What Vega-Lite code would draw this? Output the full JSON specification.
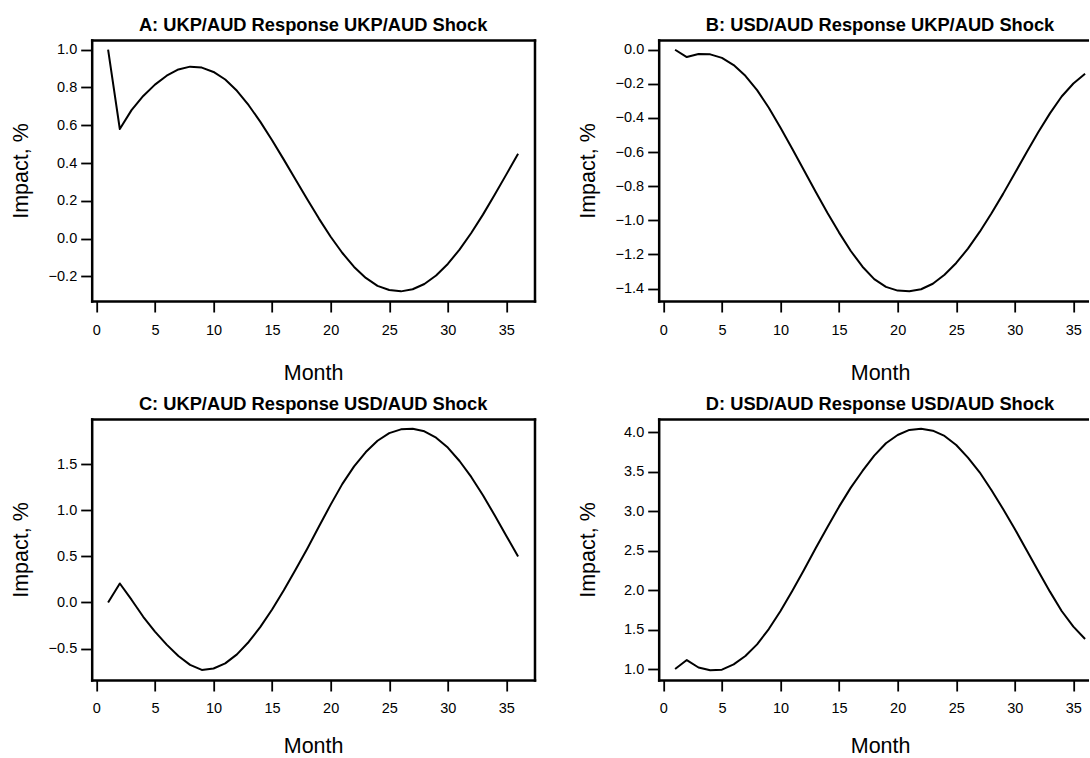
{
  "$schema": "https://vega.github.io/schema/vega-lite/v6.json",
  "background": "white",
  "autosize": {"type": "pad"},
  "padding": {"left": 10.7, "top": 16, "right": 0, "bottom": 0},
  "bounds": "flush",
  "columns": 2,
  "spacing": {"row": 118, "column": 124},
  "config": {
    "font": "Liberation Sans",
    "view": {"stroke": null},
    "axis": {
      "grid": false,
      "domainColor": "black",
      "domainWidth": 2.5,
      "domainCap": "square",
      "tickColor": "black",
      "tickSize": 11,
      "tickWidth": 1.8,
      "labelColor": "black",
      "labelFont": "Liberation Sans",
      "labelFontSize": 14.5,
      "labelFlush": false,
      "labelOverlap": false,
      "titleFont": "Liberation Sans",
      "titleFontSize": 21.5,
      "titleFontWeight": "normal",
      "titleColor": "black"
    },
    "axisBottom": {"labelPadding": 11, "titleX": 221.4, "titleY": 78.5, "titleBaseline": "alphabetic", "titleAlign": "center"},
    "axisLeft": {"labelPadding": 4, "titleX": -64, "titleY": 130.5, "titleAngle": 270, "titleBaseline": "alphabetic", "titleAlign": "center"},
    "title": {"font": "Liberation Sans", "fontSize": 18.3, "fontWeight": "bold", "color": "black", "anchor": "middle", "frame": "group", "baseline": "alphabetic", "offset": 4.3}
  },
  "datasets": {
    "irf": [
      {"panel": "A", "month": 1, "impact": 1.0},
      {"panel": "A", "month": 2, "impact": 0.58},
      {"panel": "A", "month": 3, "impact": 0.68},
      {"panel": "A", "month": 4, "impact": 0.755},
      {"panel": "A", "month": 5, "impact": 0.815},
      {"panel": "A", "month": 6, "impact": 0.862},
      {"panel": "A", "month": 7, "impact": 0.895},
      {"panel": "A", "month": 8, "impact": 0.91},
      {"panel": "A", "month": 9, "impact": 0.905},
      {"panel": "A", "month": 10, "impact": 0.882},
      {"panel": "A", "month": 11, "impact": 0.842},
      {"panel": "A", "month": 12, "impact": 0.782},
      {"panel": "A", "month": 13, "impact": 0.706},
      {"panel": "A", "month": 14, "impact": 0.618},
      {"panel": "A", "month": 15, "impact": 0.521},
      {"panel": "A", "month": 16, "impact": 0.418},
      {"panel": "A", "month": 17, "impact": 0.313},
      {"panel": "A", "month": 18, "impact": 0.208},
      {"panel": "A", "month": 19, "impact": 0.106},
      {"panel": "A", "month": 20, "impact": 0.01},
      {"panel": "A", "month": 21, "impact": -0.076},
      {"panel": "A", "month": 22, "impact": -0.15},
      {"panel": "A", "month": 23, "impact": -0.208},
      {"panel": "A", "month": 24, "impact": -0.25},
      {"panel": "A", "month": 25, "impact": -0.272},
      {"panel": "A", "month": 26, "impact": -0.279},
      {"panel": "A", "month": 27, "impact": -0.268},
      {"panel": "A", "month": 28, "impact": -0.24},
      {"panel": "A", "month": 29, "impact": -0.195},
      {"panel": "A", "month": 30, "impact": -0.134},
      {"panel": "A", "month": 31, "impact": -0.058},
      {"panel": "A", "month": 32, "impact": 0.03},
      {"panel": "A", "month": 33, "impact": 0.127},
      {"panel": "A", "month": 34, "impact": 0.232},
      {"panel": "A", "month": 35, "impact": 0.34},
      {"panel": "A", "month": 36, "impact": 0.449},

      {"panel": "B", "month": 1, "impact": 0.0},
      {"panel": "B", "month": 2, "impact": -0.043},
      {"panel": "B", "month": 3, "impact": -0.025},
      {"panel": "B", "month": 4, "impact": -0.027},
      {"panel": "B", "month": 5, "impact": -0.048},
      {"panel": "B", "month": 6, "impact": -0.09},
      {"panel": "B", "month": 7, "impact": -0.153},
      {"panel": "B", "month": 8, "impact": -0.237},
      {"panel": "B", "month": 9, "impact": -0.34},
      {"panel": "B", "month": 10, "impact": -0.457},
      {"panel": "B", "month": 11, "impact": -0.58},
      {"panel": "B", "month": 12, "impact": -0.707},
      {"panel": "B", "month": 13, "impact": -0.833},
      {"panel": "B", "month": 14, "impact": -0.956},
      {"panel": "B", "month": 15, "impact": -1.072},
      {"panel": "B", "month": 16, "impact": -1.18},
      {"panel": "B", "month": 17, "impact": -1.272},
      {"panel": "B", "month": 18, "impact": -1.345},
      {"panel": "B", "month": 19, "impact": -1.39},
      {"panel": "B", "month": 20, "impact": -1.412},
      {"panel": "B", "month": 21, "impact": -1.416},
      {"panel": "B", "month": 22, "impact": -1.404},
      {"panel": "B", "month": 23, "impact": -1.372},
      {"panel": "B", "month": 24, "impact": -1.319},
      {"panel": "B", "month": 25, "impact": -1.25},
      {"panel": "B", "month": 26, "impact": -1.166},
      {"panel": "B", "month": 27, "impact": -1.068},
      {"panel": "B", "month": 28, "impact": -0.96},
      {"panel": "B", "month": 29, "impact": -0.845},
      {"panel": "B", "month": 30, "impact": -0.724},
      {"panel": "B", "month": 31, "impact": -0.602},
      {"panel": "B", "month": 32, "impact": -0.484},
      {"panel": "B", "month": 33, "impact": -0.373},
      {"panel": "B", "month": 34, "impact": -0.274},
      {"panel": "B", "month": 35, "impact": -0.198},
      {"panel": "B", "month": 36, "impact": -0.141},

      {"panel": "C", "month": 1, "impact": 0.0},
      {"panel": "C", "month": 2, "impact": 0.206},
      {"panel": "C", "month": 3, "impact": 0.03},
      {"panel": "C", "month": 4, "impact": -0.155},
      {"panel": "C", "month": 5, "impact": -0.315},
      {"panel": "C", "month": 6, "impact": -0.457},
      {"panel": "C", "month": 7, "impact": -0.58},
      {"panel": "C", "month": 8, "impact": -0.676},
      {"panel": "C", "month": 9, "impact": -0.731},
      {"panel": "C", "month": 10, "impact": -0.715},
      {"panel": "C", "month": 11, "impact": -0.66},
      {"panel": "C", "month": 12, "impact": -0.562},
      {"panel": "C", "month": 13, "impact": -0.428},
      {"panel": "C", "month": 14, "impact": -0.265},
      {"panel": "C", "month": 15, "impact": -0.076},
      {"panel": "C", "month": 16, "impact": 0.132},
      {"panel": "C", "month": 17, "impact": 0.355},
      {"panel": "C", "month": 18, "impact": 0.583},
      {"panel": "C", "month": 19, "impact": 0.823},
      {"panel": "C", "month": 20, "impact": 1.06},
      {"panel": "C", "month": 21, "impact": 1.285},
      {"panel": "C", "month": 22, "impact": 1.475},
      {"panel": "C", "month": 23, "impact": 1.63},
      {"panel": "C", "month": 24, "impact": 1.752},
      {"panel": "C", "month": 25, "impact": 1.835},
      {"panel": "C", "month": 26, "impact": 1.876},
      {"panel": "C", "month": 27, "impact": 1.883},
      {"panel": "C", "month": 28, "impact": 1.855},
      {"panel": "C", "month": 29, "impact": 1.786},
      {"panel": "C", "month": 30, "impact": 1.678},
      {"panel": "C", "month": 31, "impact": 1.533},
      {"panel": "C", "month": 32, "impact": 1.36},
      {"panel": "C", "month": 33, "impact": 1.162},
      {"panel": "C", "month": 34, "impact": 0.945},
      {"panel": "C", "month": 35, "impact": 0.72},
      {"panel": "C", "month": 36, "impact": 0.498},

      {"panel": "D", "month": 1, "impact": 1.0},
      {"panel": "D", "month": 2, "impact": 1.114},
      {"panel": "D", "month": 3, "impact": 1.02},
      {"panel": "D", "month": 4, "impact": 0.984},
      {"panel": "D", "month": 5, "impact": 0.992},
      {"panel": "D", "month": 6, "impact": 1.06},
      {"panel": "D", "month": 7, "impact": 1.165},
      {"panel": "D", "month": 8, "impact": 1.313},
      {"panel": "D", "month": 9, "impact": 1.507},
      {"panel": "D", "month": 10, "impact": 1.735},
      {"panel": "D", "month": 11, "impact": 1.989},
      {"panel": "D", "month": 12, "impact": 2.255},
      {"panel": "D", "month": 13, "impact": 2.53},
      {"panel": "D", "month": 14, "impact": 2.796},
      {"panel": "D", "month": 15, "impact": 3.058},
      {"panel": "D", "month": 16, "impact": 3.299},
      {"panel": "D", "month": 17, "impact": 3.51},
      {"panel": "D", "month": 18, "impact": 3.704},
      {"panel": "D", "month": 19, "impact": 3.861},
      {"panel": "D", "month": 20, "impact": 3.966},
      {"panel": "D", "month": 21, "impact": 4.03},
      {"panel": "D", "month": 22, "impact": 4.046},
      {"panel": "D", "month": 23, "impact": 4.021},
      {"panel": "D", "month": 24, "impact": 3.954},
      {"panel": "D", "month": 25, "impact": 3.839},
      {"panel": "D", "month": 26, "impact": 3.679},
      {"panel": "D", "month": 27, "impact": 3.493},
      {"panel": "D", "month": 28, "impact": 3.269},
      {"panel": "D", "month": 29, "impact": 3.028},
      {"panel": "D", "month": 30, "impact": 2.775},
      {"panel": "D", "month": 31, "impact": 2.509},
      {"panel": "D", "month": 32, "impact": 2.243},
      {"panel": "D", "month": 33, "impact": 1.981},
      {"panel": "D", "month": 34, "impact": 1.736},
      {"panel": "D", "month": 35, "impact": 1.537},
      {"panel": "D", "month": 36, "impact": 1.381}
    ]
  },
  "concat": [
    {
      "width": 442.8,
      "height": 261,
      "title": {"text": "A: UKP/AUD Response UKP/AUD Shock"},
      "data": {"name": "irf"},
      "transform": [{"filter": "datum.panel === 'A'"}],
      "resolve": {"axis": {"x": "independent", "y": "independent"}},
      "layer": [
        {
          "mark": {"type": "line", "color": "black", "strokeWidth": 2, "strokeJoin": "round"},
          "encoding": {
            "x": {"field": "month", "type": "quantitative", "scale": {"domain": [-0.4, 37.4], "nice": false, "zero": false},
                  "axis": {"orient": "bottom", "values": [0, 5, 10, 15, 20, 25, 30, 35], "format": "d", "title": "Month"}},
            "y": {"field": "impact", "type": "quantitative", "scale": {"domain": [-0.33, 1.051], "nice": false, "zero": false},
                  "axis": {"orient": "left", "values": [-0.2, 0, 0.2, 0.4, 0.6, 0.8, 1.0], "format": ".1f", "title": "Impact, %"}}
          }
        },
        {
          "mark": {"type": "point", "opacity": 0},
          "encoding": {
            "x": {"field": "month", "type": "quantitative", "scale": {"domain": [-0.4, 37.4], "nice": false, "zero": false},
                  "axis": {"orient": "top", "labels": false, "ticks": false, "title": null}},
            "y": {"field": "impact", "type": "quantitative", "scale": {"domain": [-0.33, 1.051], "nice": false, "zero": false},
                  "axis": {"orient": "right", "labels": false, "ticks": false, "title": null}}
          }
        }
      ]
    },
    {
      "width": 429.5,
      "height": 261,
      "title": {"text": "B: USD/AUD Response UKP/AUD Shock", "dx": 6.6},
      "data": {"name": "irf"},
      "transform": [{"filter": "datum.panel === 'B'"}],
      "resolve": {"axis": {"x": "independent", "y": "independent"}},
      "layer": [
        {
          "mark": {"type": "line", "color": "black", "strokeWidth": 2, "strokeJoin": "round"},
          "encoding": {
            "x": {"field": "month", "type": "quantitative", "scale": {"domain": [-0.4, 36.265], "nice": false, "zero": false},
                  "axis": {"orient": "bottom", "values": [0, 5, 10, 15, 20, 25, 30, 35], "format": "d", "title": "Month"}},
            "y": {"field": "impact", "type": "quantitative", "scale": {"domain": [-1.473, 0.057], "nice": false, "zero": false},
                  "axis": {"orient": "left", "values": [-1.4, -1.2, -1.0, -0.8, -0.6, -0.4, -0.2, 0], "format": ".1f", "title": "Impact, %"}}
          }
        },
        {
          "mark": {"type": "point", "opacity": 0},
          "encoding": {
            "x": {"field": "month", "type": "quantitative", "scale": {"domain": [-0.4, 36.265], "nice": false, "zero": false},
                  "axis": {"orient": "top", "labels": false, "ticks": false, "title": null}},
            "y": {"field": "impact", "type": "quantitative", "scale": {"domain": [-1.473, 0.057], "nice": false, "zero": false}, "axis": null}
          }
        }
      ]
    },
    {
      "width": 442.8,
      "height": 261,
      "title": {"text": "C: UKP/AUD Response USD/AUD Shock"},
      "data": {"name": "irf"},
      "transform": [{"filter": "datum.panel === 'C'"}],
      "resolve": {"axis": {"x": "independent", "y": "independent"}},
      "layer": [
        {
          "mark": {"type": "line", "color": "black", "strokeWidth": 2, "strokeJoin": "round"},
          "encoding": {
            "x": {"field": "month", "type": "quantitative", "scale": {"domain": [-0.4, 37.4], "nice": false, "zero": false},
                  "axis": {"orient": "bottom", "values": [0, 5, 10, 15, 20, 25, 30, 35], "format": "d", "title": "Month", "titleY": 72.5}},
            "y": {"field": "impact", "type": "quantitative", "scale": {"domain": [-0.84, 1.988], "nice": false, "zero": false},
                  "axis": {"orient": "left", "values": [-0.5, 0, 0.5, 1.0, 1.5], "format": ".1f", "title": "Impact, %"}}
          }
        },
        {
          "mark": {"type": "point", "opacity": 0},
          "encoding": {
            "x": {"field": "month", "type": "quantitative", "scale": {"domain": [-0.4, 37.4], "nice": false, "zero": false},
                  "axis": {"orient": "top", "labels": false, "ticks": false, "title": null}},
            "y": {"field": "impact", "type": "quantitative", "scale": {"domain": [-0.84, 1.988], "nice": false, "zero": false},
                  "axis": {"orient": "right", "labels": false, "ticks": false, "title": null}}
          }
        }
      ]
    },
    {
      "width": 429.5,
      "height": 261,
      "title": {"text": "D: USD/AUD Response USD/AUD Shock", "dx": 6.6},
      "data": {"name": "irf"},
      "transform": [{"filter": "datum.panel === 'D'"}],
      "resolve": {"axis": {"x": "independent", "y": "independent"}},
      "layer": [
        {
          "mark": {"type": "line", "color": "black", "strokeWidth": 2, "strokeJoin": "round"},
          "encoding": {
            "x": {"field": "month", "type": "quantitative", "scale": {"domain": [-0.4, 36.265], "nice": false, "zero": false},
                  "axis": {"orient": "bottom", "values": [0, 5, 10, 15, 20, 25, 30, 35], "format": "d", "title": "Month", "titleY": 72.5}},
            "y": {"field": "impact", "type": "quantitative", "scale": {"domain": [0.8615, 4.1685], "nice": false, "zero": false},
                  "axis": {"orient": "left", "values": [1.0, 1.5, 2.0, 2.5, 3.0, 3.5, 4.0], "format": ".1f", "title": "Impact, %"}}
          }
        },
        {
          "mark": {"type": "point", "opacity": 0},
          "encoding": {
            "x": {"field": "month", "type": "quantitative", "scale": {"domain": [-0.4, 36.265], "nice": false, "zero": false},
                  "axis": {"orient": "top", "labels": false, "ticks": false, "title": null}},
            "y": {"field": "impact", "type": "quantitative", "scale": {"domain": [0.8615, 4.1685], "nice": false, "zero": false}, "axis": null}
          }
        }
      ]
    }
  ]
}
